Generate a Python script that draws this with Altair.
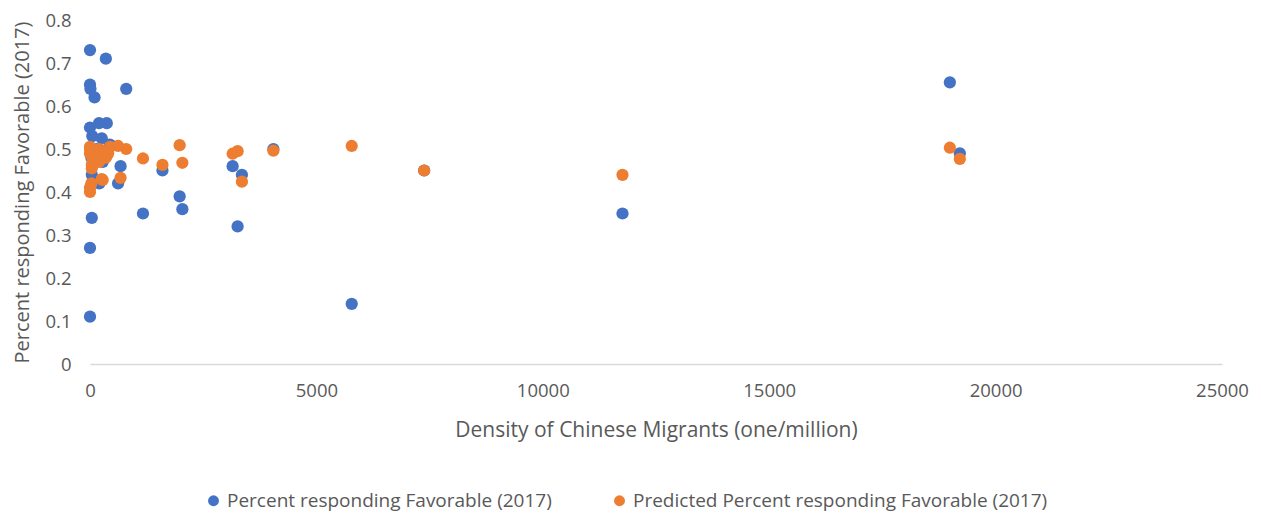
import altair as alt
import pandas as pd

density = [0, 350, 0, 10, 800, 100, 0, 200, 370, 50, 260, 440, 150, 675, 40, 205, 620,
           1600, 1980, 3150, 3355, 40, 1170, 2040, 3260, 0, 0, 4050, 5780, 7380, 11760,
           18990, 19210, 300, 30, 280, 120, 400]
actual = [0.73, 0.71, 0.65, 0.64, 0.64, 0.62, 0.55, 0.56, 0.56, 0.53, 0.525, 0.51, 0.50,
          0.46, 0.44, 0.42, 0.42, 0.45, 0.39, 0.46, 0.44, 0.34, 0.35, 0.36, 0.32, 0.27,
          0.11, 0.50, 0.14, 0.45, 0.35, 0.655, 0.49, 0.49, 0.48, 0.47, 0.495, 0.50]
predicted = [0.49, 0.48, 0.50, 0.49, 0.50, 0.49, 0.505, 0.47, 0.485, 0.48, 0.43, 0.505,
             0.49, 0.433, 0.455, 0.50, 0.507, 0.463, 0.509, 0.489, 0.424, 0.463, 0.478,
             0.468, 0.495, 0.41, 0.40, 0.496, 0.507, 0.45, 0.44, 0.503, 0.477, 0.495,
             0.42, 0.428, 0.48, 0.49]

s1 = "Percent responding Favorable (2017)"
s2 = "Predicted Percent responding Favorable (2017)"

rows = [{"x": x, "y": y, "series": s1} for x, y in zip(density, actual)]
rows += [{"x": x, "y": y, "series": s2} for x, y in zip(density, predicted)]
df = pd.DataFrame(rows)

FONT = "Open Sans"
GRAY = "#595959"

chart = alt.Chart(df).mark_circle(size=150, opacity=1).encode(
    x=alt.X("x:Q", scale=alt.Scale(domain=[0, 25000], nice=False),
            axis=alt.Axis(title="Density of Chinese Migrants (one/million)",
                          values=[0, 5000, 10000, 15000, 20000, 25000], format="d",
                          grid=False, ticks=False, domainColor="#d9d9d9", domainWidth=1.5,
                          labelFlush=False,
                          labelFontSize=18.5, labelColor=GRAY, labelPadding=17,
                          titleFontSize=21, titleColor=GRAY, titleFontWeight="normal",
                          titlePadding=20, labelFont=FONT, titleFont=FONT)),
    y=alt.Y("y:Q", scale=alt.Scale(domain=[0, 0.8], nice=False),
            axis=alt.Axis(title="Percent responding Favorable (2017)",
                          values=[0, 0.1, 0.2, 0.3, 0.4, 0.5, 0.6, 0.7, 0.8], format=".1~f",
                          grid=False, ticks=False, domain=False, labelFlush=False,
                          labelFontSize=18.5, labelColor=GRAY, labelPadding=19,
                          titleFontSize=20, titleColor=GRAY, titleFontWeight="normal",
                          titlePadding=12, labelFont=FONT, titleFont=FONT)),
    color=alt.Color("series:N",
                    scale=alt.Scale(domain=[s1, s2], range=["#4472C4", "#ED7D31"]),
                    legend=alt.Legend(title=None, orient="none", direction="horizontal",
                                      legendX=114, legendY=471, symbolType="circle",
                                      symbolSize=120, labelFontSize=19, labelColor=GRAY,
                                      labelFont=FONT, columnPadding=58, labelLimit=600)),
    order=alt.Order("series:N"),
).properties(
    width=1132, height=344,
    autosize=alt.AutoSizeParams(type="none"),
    padding={"left": 82, "top": 12, "right": 30, "bottom": 150},
).configure_view(stroke=None)

chart.save("out.html", embed_options={"renderer": "svg", "actions": False})
